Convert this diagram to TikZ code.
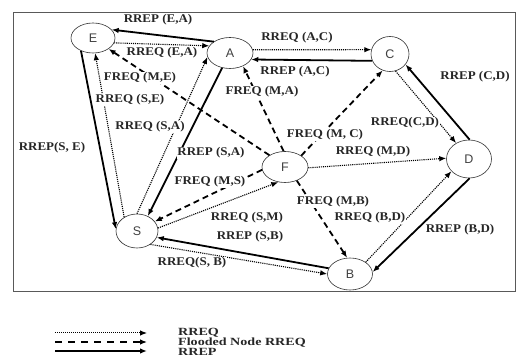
\documentclass[tikz,border=0pt]{standalone}
\usepackage{fontspec}
\usetikzlibrary{shapes.geometric,arrows.meta}
\newfontfamily\lblfont[FakeStretch=1.1]{Liberation Serif}
\newfontfamily\legfont[FakeStretch=1.28]{Liberation Serif}
\newfontfamily\nodefont{Liberation Sans}
\tikzset{
  nd/.style={ellipse,draw=black!80,line width=0.6pt,inner sep=0pt,fill=white,
    font=\nodefont\fontsize{12.5}{13}\selectfont,text=black!75},
  lbl/.style={font=\lblfont\bfseries\fontsize{11.8}{12}\selectfont,text=black!85,
    fill=white,inner sep=0.5pt},
  leg/.style={font=\legfont\bfseries\fontsize{11}{10}\selectfont,text=black!85,
    anchor=west,inner sep=0pt},
  tip/.style={-{Latex[length=7pt,width=5.5pt]}},
  rreq/.style={tip,densely dotted,line width=1.1pt},
  freq/.style={tip,dash pattern=on 6pt off 4pt,line width=1.8pt},
  rrep/.style={tip,line width=1.8pt},
}
\begin{document}
\begin{tikzpicture}[x=1pt,y=-1pt]
\useasboundingbox (0,0) rectangle (517,363);
\draw[black!65,line width=0.8pt] (13,12) rectangle (515.5,291);
% nodes
\node[nd,minimum width=44pt,minimum height=30pt] (E) at (93,38) {E};
\node[nd,minimum width=46pt,minimum height=31pt] (A) at (230,53) {A};
\node[nd,minimum width=38pt,minimum height=35pt] (C) at (390,54) {C};
\node[nd,minimum width=45pt,minimum height=38pt] (D) at (469,159) {D};
\node[nd,minimum width=46pt,minimum height=31pt] (F) at (285,167) {F};
\node[nd,minimum width=42pt,minimum height=34pt] (S) at (137,231) {S};
\node[nd,minimum width=45pt,minimum height=32pt] (B) at (350,274) {B};
% edges
\draw[rrep] (A.145) -- (E.24);
\draw[rreq] (E.-13) -- (A.161);
\draw[rreq] (S.133) -- (E.-82);
\draw[rrep] (E.227) -- (S.175);
\draw[rreq] (S.90) -- (A.190);
\draw[rrep] (A.242) -- (S.54);
\draw[freq] (F.187) -- (S.28);
\draw[rreq] (S.8) -- (F.246);
\draw[rrep] (B.165) -- (S.-18);
\draw[rreq] (S.-45) -- (B.180);
\draw[freq] (F.-49) -- (B.100);
\draw[rreq] (B.37) -- (D.215);
\draw[rrep] (D.-88) -- (B.5);
\draw[rreq] (F.-2) -- (D.178);
\draw[freq] (F.35) -- (C.246);
\draw[rreq] (C.-72) -- (D.129);
\draw[rrep] (D.88) -- (C.-34);
\draw[rreq] (A.8) -- (C.167);
\draw[rrep] (C.201) -- (A.-17);
\draw[freq] (F.95) -- (A.-45);
\draw[freq] (F.143) -- (E.-35);
% labels
\node[lbl] (l1) at (158,20) {RREP (E,A)};
\node[lbl] (l2) at (162,53) {RREQ (E,A)};
\node[lbl] (l3) at (140,78) {FREQ (M,E)};
\node[lbl] (l4) at (130,100) {RREQ (S,E)};
\node[lbl] (l5) at (150,127) {RREQ (S,A)};
\node[lbl] (l6) at (52,148) {RREP(S, E)};
\node[lbl] (l7) at (297,38) {RREQ (A,C)};
\node[lbl] (l8) at (295,72) {RREP (A,C)};
\node[lbl] (l9) at (262,92) {FREQ (M,A)};
\node[lbl] (l10) at (475,77) {RREP (C,D)};
\node[lbl] (l11) at (405,123) {RREQ(C,D)};
\node[lbl] (l12) at (325,135) {FREQ (M, C)};
\node[lbl] (l13) at (373,152) {RREQ (M,D)};
\node[lbl] (l14) at (211,153) {RREP (S,A)};
\node[lbl] (l15) at (210,182) {FREQ (M,S)};
\node[lbl] (l16) at (247,218) {RREQ (S,M)};
\node[lbl] (l17) at (250,237) {RREP (S,B)};
\node[lbl] (l18) at (192,263) {RREQ(S, B)};
\node[lbl] (l19) at (333,202) {FREQ (M,B)};
\node[lbl] (l20) at (370,218) {RREQ (B,D)};
\node[lbl] (l21) at (460,230) {RREP (B,D)};
% legend
\coordinate (q1a) at (55,333); \coordinate (q1b) at (147,333);
\coordinate (q2a) at (55,342); \coordinate (q2b) at (147,342);
\coordinate (q3a) at (55,351); \coordinate (q3b) at (147,351);
\draw[tip,densely dotted,line width=1pt] (q1a) -- (q1b);
\draw[tip,dash pattern=on 7pt off 6pt,line width=1.2pt] (q2a) -- (q2b);
\draw[tip,line width=1.4pt] (q3a) -- (q3b);
\node[leg] (t1) at (178,333) {RREQ};
\node[leg] (t2) at (178,342.5) {Flooded Node RREQ};
\node[leg] (t3) at (178,352) {RREP};
\end{tikzpicture}
\end{document}
